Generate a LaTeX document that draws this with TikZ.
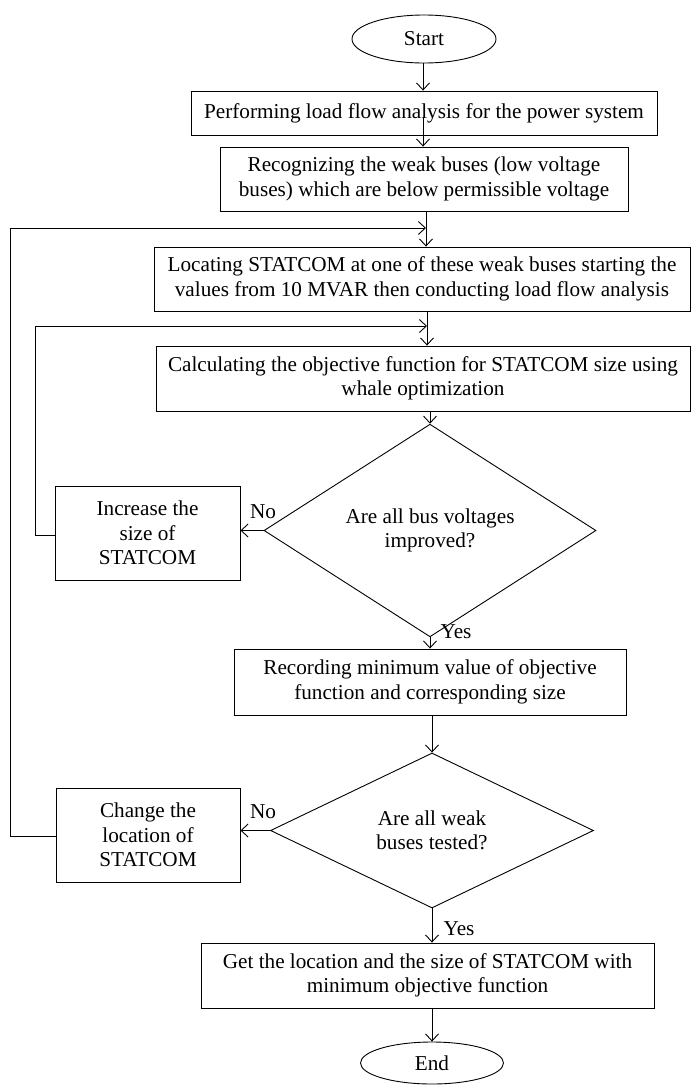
\documentclass[tikz,border=0pt]{standalone}
\usepackage{fontspec}
\setmainfont{Liberation Serif}
\usetikzlibrary{shapes.geometric,arrows.meta}
\begin{document}
\begin{tikzpicture}[x=1pt,y=-1pt,
  every node/.style={font=\fontsize{21.2}{24.5}\selectfont},
  box/.style={draw,line width=0.9pt,align=center,inner sep=0pt},
  oval/.style={draw,ellipse,line width=0.9pt,inner sep=0pt},
  dia/.style={draw,diamond,line width=0.9pt,align=center,inner sep=0pt},
  lab/.style={inner sep=0pt},
  arr/.style={line width=0.9pt,-{Straight Barb[length=7pt,width=13pt,line width=0.9pt]}},
  ln/.style={line width=0.9pt}]
\useasboundingbox (0,0) rectangle (691,1085);
\node[oval,minimum width=144pt,minimum height=48pt] (start) at (424,39) {Start};
\node[box,minimum width=466pt,minimum height=44pt] (b1) at (424,113) {Performing load flow analysis for the power system};
\node[box,minimum width=408pt,minimum height=64pt] (b2) at (424,179) {Recognizing the weak buses (low voltage\\buses) which are below permissible voltage};
\node[box,minimum width=536pt,minimum height=64pt] (b3) at (422,279) {Locating STATCOM at one of these weak buses starting the\\values from 10 MVAR then conducting load flow analysis};
\node[box,minimum width=534pt,minimum height=65pt] (b4) at (423,378.5) {Calculating the objective function for STATCOM size using\\whale optimization};
\node[dia,minimum width=332pt,minimum height=161pt] (d1) at (430,530.5) {Are all bus voltages\\improved?};
\node[box,minimum width=185pt,minimum height=94pt] (b5) at (147.5,533) {Increase the\\size of\\STATCOM};
\node[box,minimum width=392pt,minimum height=66pt] (b6) at (430,682) {Recording minimum value of objective\\function and corresponding size};
\node[dia,minimum width=323pt,minimum height=155pt] (d2) at (432,830.5) {Are all weak\\buses tested?};
\node[box,minimum width=184pt,minimum height=94pt] (b7) at (148,835) {Change the\\location of\\STATCOM};
\node[box,minimum width=453pt,minimum height=65pt] (b8) at (427.5,975.5) {Get the location and the size of STATCOM with\\minimum objective function};
\node[oval,minimum width=143pt,minimum height=42pt] (end) at (432,1063) {End};
\node[lab] (no1) at (263,512) {No};
\node[lab] (no2) at (263,812) {No};
\node[lab] (yes1) at (456,632) {Yes};
\node[lab] (yes2) at (459,929) {Yes};
\coordinate (j1) at (426,228);
\coordinate (j2) at (427,326);
\draw[arr] (start.south -| 423,0) -- (b1.north -| 423,0);
\draw[arr] (423,117) coordinate (s12) -- (b2.north -| s12);
\draw[arr] (b2.south -| j1) -- (b3.north -| j1);
\draw[arr] (b3.south -| j2) -- (b4.north -| j2);
\draw[arr] (b4.south -| d1.north) -- (d1.north);
\draw[arr] (d1.south) -- (b6.north -| d1.south);
\draw[arr] (b6.south -| d2.north) -- (d2.north);
\draw[arr] (d2.south) -- (b8.north -| d2.south);
\draw[arr] (b8.south -| end.north) -- (end.north);
\draw[arr] (d1.west) -- (b5.east |- d1.west);
\draw[arr] (d2.west) -- (b7.east |- d2.west);
\draw[arr] (b5.west |- 0,535) -- (35,535) -- (35,326) -- (j2);
\draw[arr] (b7.west |- 0,836) -- (10,836) -- (10,228) -- (j1);
\end{tikzpicture}
\end{document}
